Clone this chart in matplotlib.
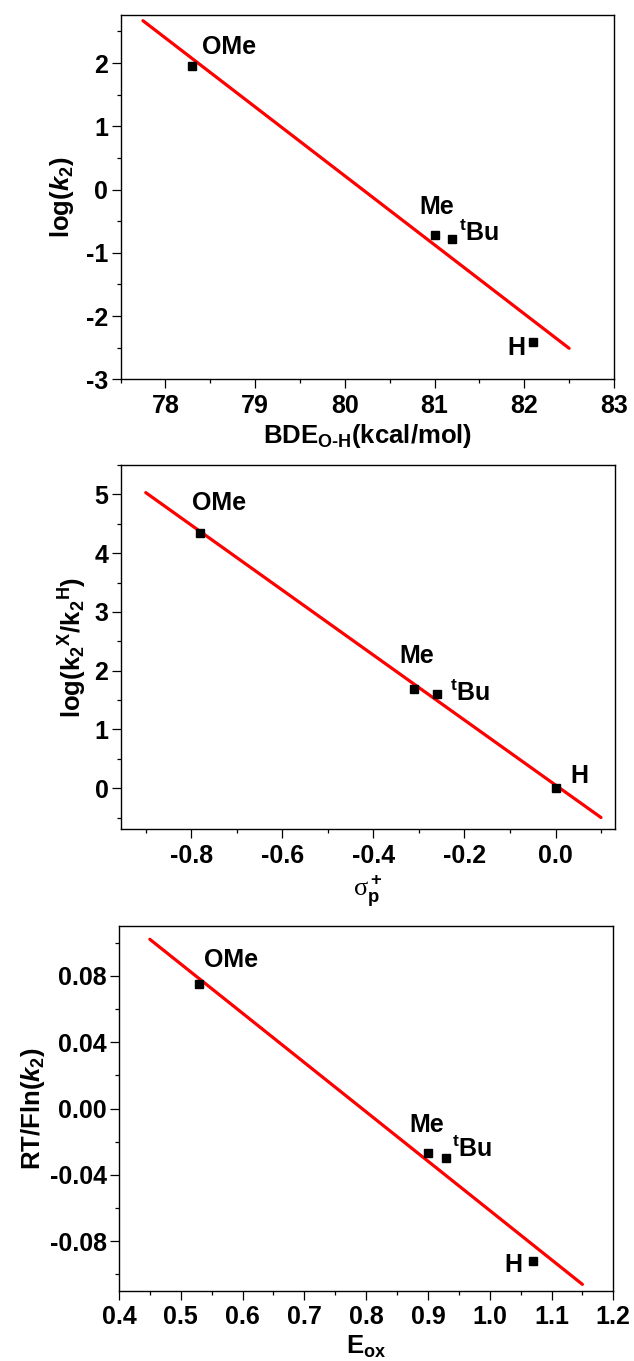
import matplotlib
matplotlib.use("Agg")
import matplotlib.pyplot as plt
from matplotlib.ticker import MultipleLocator, FormatStrFormatter

plt.rcParams['font.family'] = ['Liberation Sans', 'DejaVu Sans']
plt.rcParams['font.weight'] = 'bold'
plt.rcParams['axes.labelweight'] = 'bold'
plt.rcParams['axes.unicode_minus'] = False
plt.rcParams['mathtext.fontset'] = 'custom'
plt.rcParams['mathtext.rm'] = 'Liberation Sans:bold'
plt.rcParams['mathtext.it'] = 'Liberation Sans:bold:italic'
plt.rcParams['mathtext.bf'] = 'Liberation Sans:bold'

# substituents
names = ["OMe", "Me", "$^{\\rm t}$Bu", "H"]

# panel 1: log(k2) vs BDE
bde = [78.3, 81.0, 81.2, 82.1]
logk2 = [1.96, -0.72, -0.78, -2.41]
fit1_x = [77.75, 82.5]
fit1_y = [2.67, -2.51]

# panel 2: Hammett plot
sigma = [-0.78, -0.31, -0.26, 0.0]
logrel = [4.35, 1.69, 1.61, 0.0]
fit2_x = [-0.9, 0.1]
fit2_y = [5.03, -0.5]

# panel 3: RT/F ln(k2) vs Eox
eox = [0.53, 0.90, 0.93, 1.07]
rtf = [0.075, -0.027, -0.030, -0.092]
fit3_x = [0.45, 1.15]
fit3_y = [0.102, -0.106]

W, H = 634, 1361
fig = plt.figure(figsize=(W / 100, H / 100), dpi=100)


def make_axes(left, top, right, bottom):
    return fig.add_axes([left / W, 1 - bottom / H, (right - left) / W, (bottom - top) / H])


def style(ax):
    for s in ax.spines.values():
        s.set_linewidth(1.0)
    ax.tick_params(which='major', direction='out', length=6.3, width=0.9,
                   labelsize=18, top=False, right=False)
    ax.tick_params(which='minor', direction='out', length=3, width=0.9,
                   top=False, right=False)
    ax.tick_params(axis='x', which='major', pad=4)
    ax.tick_params(axis='y', which='major', pad=2.5)
    for lab in ax.get_xticklabels() + ax.get_yticklabels():
        lab.set_fontweight('bold')


def draw(ax, x, y, fx, fy, label_pos):
    ax.plot(fx, fy, color='#ff0000', lw=2.3, solid_capstyle='round', zorder=2)
    ax.plot(x, y, 's', color='black', ms=5.5, zorder=3)
    for name, (lx, ly) in zip(names, label_pos):
        ax.text(lx, ly, name, fontsize=18, fontweight='bold', ha='left', va='center')


# ---- panel 1
ax1 = make_axes(120.5, 15, 614, 379.3)
draw(ax1, bde, logk2, fit1_x, fit1_y,
     [(78.41, 2.26), (80.83, -0.27), (81.27, -0.69), (81.81, -2.50)])
ax1.set_xlim(77.5, 83)
ax1.set_ylim(-3, 2.76)
ax1.xaxis.set_major_locator(MultipleLocator(1))
ax1.xaxis.set_minor_locator(MultipleLocator(0.5))
ax1.yaxis.set_major_locator(MultipleLocator(1))
ax1.yaxis.set_minor_locator(MultipleLocator(0.5))
style(ax1)
ax1.set_xlabel("BDE$_{\\rm O\\text{-}H}$(kcal/mol)", fontsize=18.5, labelpad=3)
ax1.set_ylabel("log($k_2$)", fontsize=18.5, labelpad=7)

# ---- panel 2
ax2 = make_axes(120.7, 465, 614.7, 829.3)
draw(ax2, sigma, logrel, fit2_x, fit2_y,
     [(-0.798, 4.86), (-0.342, 2.245), (-0.231, 1.62), (0.032, 0.21)])
ax2.set_xlim(-0.955, 0.13)
ax2.set_ylim(-0.7, 5.5)
ax2.xaxis.set_major_locator(MultipleLocator(0.2))
ax2.xaxis.set_minor_locator(MultipleLocator(0.1))
ax2.xaxis.set_major_formatter(FormatStrFormatter('%.1f'))
ax2.yaxis.set_major_locator(MultipleLocator(1))
ax2.yaxis.set_minor_locator(MultipleLocator(0.5))
style(ax2)
ax2.set_xlabel("σ$_{\\rm p}^{\\rm +}$", fontsize=19, fontweight='normal',
               family=['Liberation Serif', 'DejaVu Serif'], labelpad=4)
ax2.set_ylabel("log(k$_2$$^{\\rm X}$/k$_2$$^{\\rm H}$)", fontsize=18.5, labelpad=4)

# ---- panel 3
ax3 = make_axes(118.9, 926, 613.3, 1291)
draw(ax3, eox, rtf, fit3_x, fit3_y,
     [(0.538, 0.0897), (0.870, -0.0099), (0.939, -0.0246), (1.024, -0.0945)])
ax3.set_xlim(0.4, 1.2)
ax3.set_ylim(-0.11, 0.11)
ax3.xaxis.set_major_locator(MultipleLocator(0.1))
ax3.xaxis.set_minor_locator(MultipleLocator(0.05))
ax3.xaxis.set_major_formatter(FormatStrFormatter('%.1f'))
ax3.yaxis.set_major_locator(MultipleLocator(0.04))
ax3.yaxis.set_minor_locator(MultipleLocator(0.02))
ax3.yaxis.set_major_formatter(FormatStrFormatter('%.2f'))
style(ax3)
ax3.set_xlabel("E$_{\\rm ox}$", fontsize=18.5, labelpad=3)
ax3.set_ylabel("RT/Fln($k_2$)", fontsize=18.5, labelpad=2)

fig.savefig("out.png", dpi=100)
